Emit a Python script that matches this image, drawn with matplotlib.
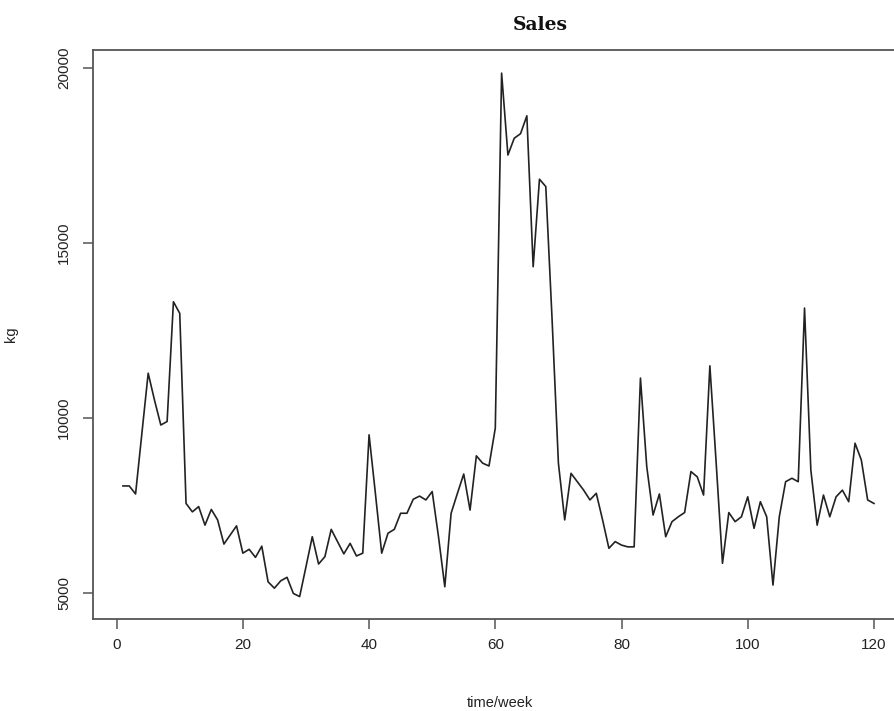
import matplotlib
matplotlib.use("Agg")
import matplotlib.pyplot as plt

# Weekly sales (kg)
weeks = list(range(1, 121))
sales_kg = [
    8050, 8050, 7820, 9550, 11270, 10500, 9790, 9890, 13310, 12980,   # 1-10
    7550, 7310, 7460, 6930, 7380, 7080, 6390, 6650, 6910, 6130,       # 11-20
    6240, 6010, 6330, 5310, 5130, 5340, 5440, 4980, 4890, 5740,       # 21-30
    6600, 5820, 6030, 6810, 6460, 6110, 6410, 6050, 6130, 9510,       # 31-40
    7840, 6130, 6700, 6810, 7270, 7270, 7670, 7760, 7650, 7890,       # 41-50
    6600, 5170, 7270, 7840, 8390, 7360, 8910, 8700, 8620, 9700,       # 51-60
    19840, 17500, 17980, 18110, 18620, 14310, 16810, 16600, 12800, 8700,  # 61-70
    7080, 8410, 8170, 7930, 7650, 7840, 7080, 6270, 6460, 6360,       # 71-80
    6310, 6310, 11130, 8600, 7220, 7820, 6600, 7030, 7170, 7290,      # 81-90
    8460, 8310, 7790, 11480, 8700, 5840, 7290, 7030, 7170, 7740,      # 91-100
    6840, 7600, 7170, 5220, 7170, 8170, 8270, 8170, 13130, 8500,      # 101-110
    6930, 7790, 7170, 7740, 7930, 7600, 9270, 8790, 7650, 7550,       # 111-120
]
x_ticks = [0, 20, 40, 60, 80, 100, 120]
y_ticks = [5000, 10000, 15000, 20000]

W, H = 894, 711
fig = plt.figure(figsize=(W / 100, H / 100), dpi=100)
ax = fig.add_axes([92.9 / W, 1 - 619 / H, (904 - 92.9) / W, (619 - 50) / H])

axis_col = "#555555"
ax.plot(weeks, sales_kg, color="#222222", linewidth=1.2)

ax.set_xlim(-3.76, 124.76)
ax.set_ylim(4250, 20500)
ax.set_xticks(x_ticks)
ax.set_yticks(y_ticks)
ax.set_xticklabels([str(v) for v in x_ticks])
ax.set_yticklabels([str(v) for v in y_ticks], rotation=90, va="center")

for s in ax.spines.values():
    s.set_color(axis_col)
    s.set_linewidth(1.3)

ax.tick_params(axis="both", direction="out", length=7.5, width=1.1,
               color=axis_col, labelcolor="#222222", labelsize=11)
ax.tick_params(axis="x", pad=6)
ax.tick_params(axis="y", pad=8)
for lab in ax.get_xticklabels() + ax.get_yticklabels():
    lab.set_family("Liberation Sans")

ax.set_xlabel("time/week", family="Liberation Sans", fontsize=10.5,
              color="#222222")
ax.xaxis.set_label_coords((500 - 92.9) / (904 - 92.9), -(696 - 619) / (619 - 50))
ax.set_ylabel("kg", family="Liberation Sans", fontsize=10.5, color="#222222")
ax.yaxis.set_label_coords(-(92.9 - 18) / (904 - 92.9), 0.5)

fig.text(540 / W, 1 - 25 / H, "Sales", family="DejaVu Serif",
         fontweight="bold", fontsize=13.5, ha="center", va="center",
         color="#111111")

fig.savefig("out.png", dpi=100)
